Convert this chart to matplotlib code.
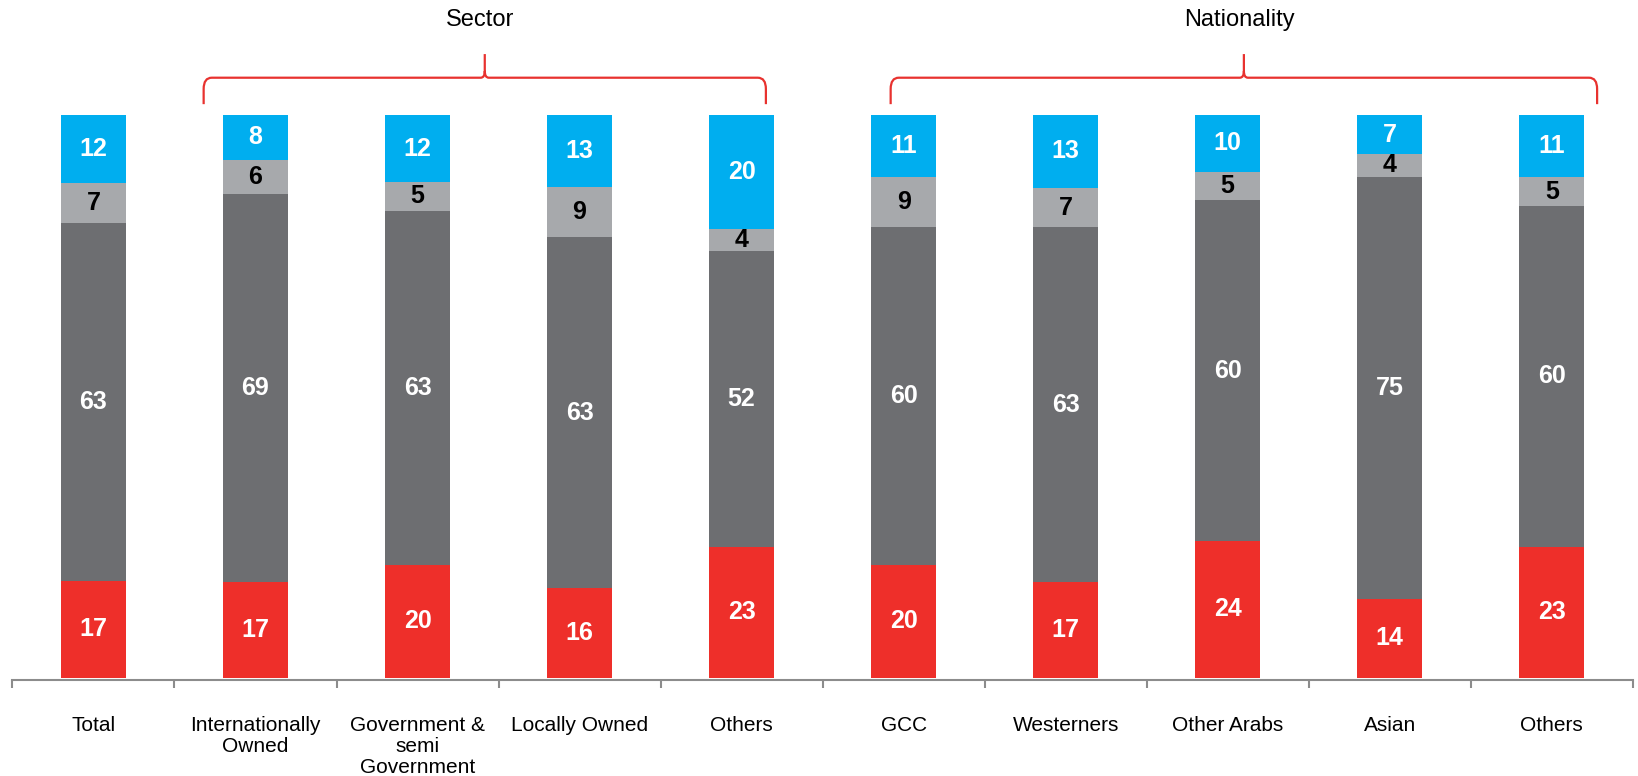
import matplotlib
matplotlib.use("Agg")
import matplotlib.pyplot as plt
from matplotlib.path import Path
from matplotlib.patches import PathPatch
import numpy as np

plt.rcParams['font.family'] = ['Liberation Sans', 'DejaVu Sans']

categories = ["Total", "Internationally\nOwned", "Government &\nsemi\nGovernment",
              "Locally Owned", "Others", "GCC", "Westerners", "Other Arabs",
              "Asian", "Others"]
red_vals = [17, 17, 20, 16, 23, 20, 17, 24, 14, 23]
dark_vals = [63, 69, 63, 63, 52, 60, 63, 60, 75, 60]
light_vals = [7, 6, 5, 9, 4, 9, 7, 5, 4, 5]
blue_vals = [12, 8, 12, 13, 20, 11, 13, 10, 7, 11]

group_names = ["Sector", "Nationality"]
# bracket spans in category units (left edge, right edge)
group_spans = [(0.68, 4.15), (4.92, 9.28)]

colors = ["#EE2F2A", "#6D6E71", "#A7A9AC", "#00AEEF"]
text_colors = ["white", "white", "black", "white"]

series = np.array([red_vals, dark_vals, light_vals, blue_vals], dtype=float)
shares = series / series.sum(axis=0) * 100  # all bars drawn to 100%

fig = plt.figure(figsize=(16.38, 7.76), dpi=100)
ax = fig.add_axes([0.0076, 0.124, 0.9892, 0.728])

x = np.arange(len(categories))
bottom = np.zeros(len(categories))
for i in range(4):
    ax.bar(x, shares[i], 0.4, bottom=bottom, color=colors[i], linewidth=0)
    for j in range(len(categories)):
        ax.text(x[j], bottom[j] + shares[i][j] / 2, str(int(series[i][j])),
                ha="center", va="center", fontsize=18, fontweight="bold",
                color=text_colors[i])
    bottom += shares[i]

ax.set_xlim(-0.5, len(categories) - 0.5)
ax.set_ylim(-0.4, 100)

for s in ["top", "right", "left"]:
    ax.spines[s].set_visible(False)
ax.spines["bottom"].set_color("#8C8C8C")
ax.spines["bottom"].set_linewidth(1.5)
ax.set_yticks([])

ax.set_xticks(x)
ax.set_xticklabels(categories, fontsize=15, linespacing=1.15, va="top")
ax.tick_params(axis="x", which="major", length=0, pad=26)
ax.set_xticks(np.arange(-0.5, len(categories)), minor=True)
ax.tick_params(axis="x", which="minor", length=6, width=1.5, color="#8C8C8C")

# curly brackets above the groups
y_end, y_line, y_peak = 101.9, 106.6, 110.8
rx, ry = 0.05, 2.0     # corner size at the ends
px, py = 0.025, 1.2    # corner size at the peak
for name, (x0, x1) in zip(group_names, group_spans):
    xm = (x0 + x1) / 2
    verts = [
        (x0, y_end), (x0, y_line - ry), (x0, y_line), (x0 + rx, y_line),
        (xm - px, y_line), (xm, y_line), (xm, y_line + py), (xm, y_peak),
        (xm, y_line + py), (xm, y_line), (xm + px, y_line),
        (x1 - rx, y_line), (x1, y_line), (x1, y_line - ry), (x1, y_end),
    ]
    codes = [Path.MOVETO, Path.LINETO, Path.CURVE3, Path.CURVE3,
             Path.LINETO, Path.CURVE3, Path.CURVE3, Path.LINETO,
             Path.MOVETO, Path.CURVE3, Path.CURVE3,
             Path.LINETO, Path.CURVE3, Path.CURVE3, Path.LINETO]
    ax.add_patch(PathPatch(Path(verts, codes), fill=False, edgecolor="#E8322F",
                           linewidth=1.6, clip_on=False))
    ax.text(xm - 0.03, 116.8, name, ha="center", va="center", fontsize=17,
            clip_on=False)

fig.savefig("out.png", dpi=100)
